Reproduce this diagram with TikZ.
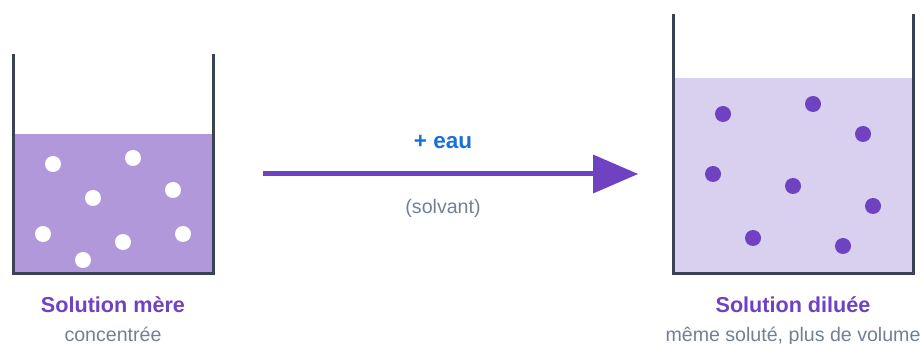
\documentclass[tikz,border=0pt]{standalone}
\usepackage{fontspec}
\setmainfont{Liberation Sans}
\usetikzlibrary{arrows.meta}
\definecolor{wall}{HTML}{3A4356}
\definecolor{violet}{HTML}{6F42C1}
\definecolor{liqA}{HTML}{B098DB}
\definecolor{liqB}{HTML}{D9CFEE}
\definecolor{eaublue}{HTML}{1A6FD8}
\definecolor{grey}{HTML}{718096}
\tikzset{
  wallline/.style={draw=wall, line width=3pt, line join=miter},
  whitedot/.style={circle, fill=white, inner sep=0pt, minimum size=16pt},
  violetdot/.style={circle, fill=violet, inner sep=0pt, minimum size=16pt},
  titletext/.style={anchor=base, text=violet, font=\fontsize{21.6}{24}\selectfont\bfseries, inner sep=0pt},
  subtext/.style={anchor=base, text=grey, font=\fontsize{19.6}{22}\selectfont, inner sep=0pt},
}
\begin{document}
\begin{tikzpicture}[x=1pt,y=-1pt]
\useasboundingbox (0,0) rectangle (924,344);
% left beaker
\fill[liqA] (14.5,134) rectangle (211.5,272.5);
\draw[wallline] (13,54) -- (13,274) -- (213,274) -- (213,54);
\foreach \i/\p in {1/{(53,164)},2/{(133,158)},3/{(93,198)},4/{(173,190)},5/{(43,234)},6/{(123,242)},7/{(183,234)},8/{(83,260)}}
  \node[whitedot] (w\i) at \p {};
% right beaker
\fill[liqB] (674.5,78) rectangle (911.5,272.5);
\draw[wallline] (673,14) -- (673,274) -- (913,274) -- (913,14);
\foreach \i/\p in {1/{(723,114)},2/{(813,104)},3/{(863,134)},4/{(713,174)},5/{(793,186)},6/{(873,206)},7/{(753,238)},8/{(843,246)}}
  \node[violetdot] (v\i) at \p {};
% arrow
\coordinate (astart) at (263,174);
\coordinate (aend) at (638,174);
\draw[violet, line width=5pt, -{Triangle[length=45pt,width=39pt,line width=0pt]}] (astart) -- (aend);
\node[anchor=base, text=eaublue, font=\fontsize{22.5}{26}\selectfont\bfseries, inner sep=0pt] (eau) at (443,149) {+ eau};
\node[subtext] (solv) at (443,214) {(solvant)};
% labels
\node[titletext] (t1) at (113,313) {Solution mère};
\node[subtext] (s1) at (113,341.5) {concentrée};
\node[titletext] (t2) at (793,313) {Solution diluée};
\node[subtext] (s2) at (793,341.5) {même soluté, plus de volume};
\end{tikzpicture}
\end{document}
